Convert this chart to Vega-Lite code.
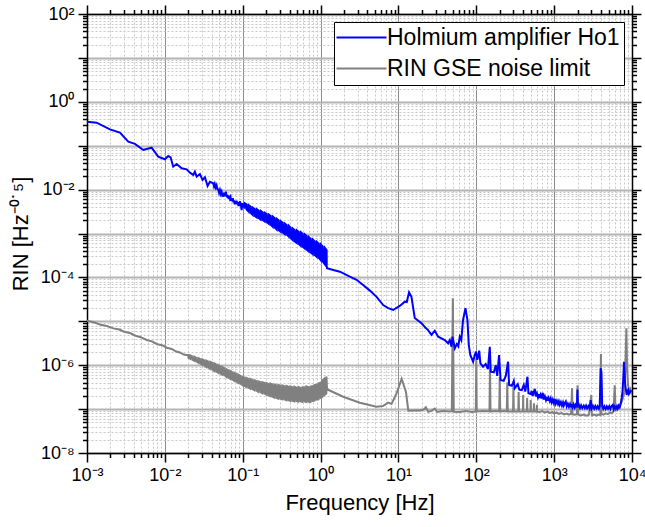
{
  "$schema": "https://vega.github.io/schema/vega-lite/v6.json",
  "width": 545,
  "height": 439,
  "autosize": {"type": "none"},
  "padding": {"left": 87, "top": 14, "right": 13, "bottom": 74},
  "background": "white",
  "datasets": {
    "ho1env": [
      {"f":0.1,"lo":4.4e-3,"hi":4.7e-3},{"f":0.12,"lo":3.3e-3,"hi":4.16e-3},{"f":0.15,"lo":2.47e-3,"hi":3.37e-3},{"f":0.2,"lo":1.91e-3,"hi":2.66e-3},{"f":0.25,"lo":1.45e-3,"hi":2.19e-3},{"f":0.3,"lo":1.18e-3,"hi":1.82e-3},{"f":0.4,"lo":8.6e-4,"hi":1.33e-3},{"f":0.5,"lo":6.3e-4,"hi":1.11e-3},{"f":0.6,"lo":4.95e-4,"hi":9.2e-4},{"f":0.7,"lo":4.1e-4,"hi":7.9e-4},{"f":0.8,"lo":3.5e-4,"hi":6.85e-4},{"f":0.9,"lo":3.05e-4,"hi":6.0e-4},{"f":1.0,"lo":2.62e-4,"hi":5.3e-4},{"f":1.1,"lo":2.26e-4,"hi":4.56e-4},{"f":1.19,"lo":1.95e-4,"hi":4.0e-4}
    ],
    "gseenv": [
      {"f":0.02,"lo":1.54e-6,"hi":1.63e-6},{"f":0.025,"lo":1.27e-6,"hi":1.42e-6},{"f":0.03,"lo":1.07e-6,"hi":1.3e-6},{"f":0.04,"lo":8.3e-7,"hi":1.08e-6},{"f":0.05,"lo":6.75e-7,"hi":9.1e-7},{"f":0.06,"lo":5.7e-7,"hi":7.9e-7},{"f":0.07,"lo":5.05e-7,"hi":7.0e-7},{"f":0.08,"lo":4.47e-7,"hi":6.25e-7},{"f":0.1,"lo":3.6e-7,"hi":5.1e-7},{"f":0.12,"lo":3.22e-7,"hi":4.68e-7},{"f":0.15,"lo":2.78e-7,"hi":4.16e-7},{"f":0.2,"lo":2.22e-7,"hi":3.74e-7},{"f":0.25,"lo":1.92e-7,"hi":3.48e-7},{"f":0.3,"lo":1.8e-7,"hi":3.28e-7},{"f":0.4,"lo":1.61e-7,"hi":3.14e-7},{"f":0.5,"lo":1.56e-7,"hi":2.98e-7},{"f":0.6,"lo":1.54e-7,"hi":3.0e-7},{"f":0.7,"lo":1.53e-7,"hi":3.05e-7},{"f":0.8,"lo":1.59e-7,"hi":3.25e-7},{"f":0.9,"lo":1.7e-7,"hi":3.5e-7},{"f":1.0,"lo":1.87e-7,"hi":3.9e-7},{"f":1.1,"lo":2.13e-7,"hi":4.6e-7},{"f":1.19,"lo":2.35e-7,"hi":5.3e-7}
    ],
    "ho1": [
      {"f":0.001,"v":0.352},{"f":0.00133,"v":0.334},{"f":0.00197,"v":0.236},{"f":0.00265,"v":0.198},{"f":0.00339,"v":0.123},{"f":0.00413,"v":0.110},{"f":0.00528,"v":0.0798},{"f":0.00676,"v":0.0902},{"f":0.00822,"v":0.0562},{"f":0.0100,"v":0.049},{"f":0.01107,"v":0.0582},{"f":0.01186,"v":0.0543},{"f":0.0128,"v":0.0333},{"f":0.01416,"v":0.0383},{"f":0.01644,"v":0.0305},{"f":0.01905,"v":0.029},{"f":0.0210,"v":0.0243},{"f":0.0232,"v":0.0215},{"f":0.0243,"v":0.0256},{"f":0.0256,"v":0.0197},{"f":0.0282,"v":0.0226},{"f":0.0305,"v":0.0166},{"f":0.0327,"v":0.0191},{"f":0.0354,"v":0.0121},{"f":0.0379,"v":0.0151},
      {"f":0.0418,"v":0.0139},{"f":0.0428,"v":0.0118},{"f":0.0438,"v":0.0135},{"f":0.0450,"v":0.0112},{"f":0.0462,"v":0.0126},{"f":0.0473,"v":0.0102},{"f":0.0485,"v":0.0101},{"f":0.0497,"v":0.0084},{"f":0.0510,"v":0.0098},{"f":0.0523,"v":0.0080},{"f":0.0536,"v":0.0090},{"f":0.0548,"v":0.0074},{"f":0.0560,"v":0.0078},{"f":0.0572,"v":0.0069},{"f":0.0584,"v":0.0085},{"f":0.0596,"v":0.0072},{"f":0.0608,"v":0.0090},{"f":0.0620,"v":0.0068},{"f":0.0630,"v":0.0076},{"f":0.0640,"v":0.0064},{"f":0.0652,"v":0.0074},{"f":0.0663,"v":0.0062},{"f":0.0674,"v":0.0073},{"f":0.0685,"v":0.0063},{"f":0.0697,"v":0.0068},{"f":0.0708,"v":0.0056},{"f":0.0720,"v":0.0063},{"f":0.0732,"v":0.0054},{"f":0.0748,"v":0.0064},{"f":0.0760,"v":0.0051},{"f":0.0775,"v":0.0057},{"f":0.079,"v":0.0046},{"f":0.0805,"v":0.0055},{"f":0.0820,"v":0.0047},{"f":0.0835,"v":0.0056},{"f":0.0850,"v":0.0046},{"f":0.0865,"v":0.0052},{"f":0.088,"v":0.0042},{"f":0.0895,"v":0.0051},{"f":0.0908,"v":0.0045},{"f":0.092,"v":0.0055},{"f":0.0932,"v":0.0042},{"f":0.0945,"v":0.0050},{"f":0.0957,"v":0.0040},{"f":0.0968,"v":0.0034},{"f":0.0984,"v":0.0046},
      {"f":0.1000,"v":4.95e-3},{"f":0.1004,"v":4.2e-3},{"f":0.1061,"v":3.87e-3},{"f":0.1065,"v":4.85e-3},{"f":0.1126,"v":4.55e-3},{"f":0.1131,"v":3.45e-3},{"f":0.1194,"v":3.15e-3},{"f":0.1199,"v":4.38e-3},{"f":0.1267,"v":4.05e-3},{"f":0.1272,"v":2.92e-3},{"f":0.1344,"v":2.66e-3},{"f":0.1349,"v":3.88e-3},{"f":0.1426,"v":3.62e-3},{"f":0.1432,"v":2.5e-3},{"f":0.1513,"v":2.33e-3},{"f":0.1519,"v":3.55e-3},{"f":0.1605,"v":3.3e-3},{"f":0.1611,"v":2.22e-3},{"f":0.1703,"v":2.08e-3},{"f":0.1710,"v":3.25e-3},{"f":0.1807,"v":3.02e-3},{"f":0.1814,"v":2.03e-3},{"f":0.1917,"v":1.88e-3},{"f":0.1925,"v":2.96e-3},{"f":0.2034,"v":2.76e-3},{"f":0.2042,"v":1.82e-3},{"f":0.2158,"v":1.67e-3},{"f":0.2167,"v":2.68e-3},{"f":0.2290,"v":2.49e-3},{"f":0.2299,"v":1.57e-3},{"f":0.2430,"v":1.42e-3},{"f":0.2440,"v":2.42e-3},{"f":0.2578,"v":2.22e-3},{"f":0.2588,"v":1.36e-3},{"f":0.2735,"v":1.23e-3},{"f":0.2746,"v":2.14e-3},{"f":0.2902,"v":1.97e-3},{"f":0.2914,"v":1.18e-3},{"f":0.3079,"v":1.09e-3},{"f":0.3091,"v":1.9e-3},{"f":0.3267,"v":1.75e-3},{"f":0.3280,"v":1.05e-3},{"f":0.3466,"v":9.7e-4},{"f":0.3480,"v":1.68e-3},{"f":0.3677,"v":1.55e-3},{"f":0.3692,"v":9.4e-4},{"f":0.3901,"v":8.5e-4},{"f":0.3917,"v":1.49e-3},{"f":0.4139,"v":1.34e-3},{"f":0.4156,"v":7.9e-4},{"f":0.4391,"v":7.1e-4},{"f":0.4409,"v":1.29e-3},{"f":0.4659,"v":1.19e-3},{"f":0.4678,"v":6.6e-4},{"f":0.4943,"v":6.1e-4},{"f":0.4963,"v":1.18e-3},{"f":0.5245,"v":1.09e-3},{"f":0.5266,"v":5.75e-4},{"f":0.5565,"v":5.25e-4},{"f":0.5587,"v":1.07e-3},{"f":0.5904,"v":9.8e-4},{"f":0.5928,"v":5.0e-4},{"f":0.6264,"v":4.55e-4},{"f":0.6289,"v":9.5e-4},{"f":0.6646,"v":8.65e-4},{"f":0.6673,"v":4.25e-4},{"f":0.7051,"v":3.88e-4},{"f":0.7079,"v":8.3e-4},{"f":0.7481,"v":7.55e-4},{"f":0.7511,"v":3.67e-4},{"f":0.7937,"v":3.36e-4},{"f":0.7969,"v":7.27e-4},{"f":0.8421,"v":6.6e-4},{"f":0.8455,"v":3.22e-4},{"f":0.8935,"v":2.93e-4},{"f":0.8971,"v":6.42e-4},{"f":0.9480,"v":5.85e-4},{"f":0.9518,"v":2.79e-4},{"f":1.0058,"v":2.47e-4},{"f":1.0098,"v":5.63e-4},{"f":1.0671,"v":5.0e-4},{"f":1.0714,"v":2.29e-4},{"f":1.1322,"v":2.0e-4},{"f":1.1367,"v":4.7e-4},{"f":1.1960,"v":4.2e-4},{"f":1.2008,"v":1.83e-4},
      {"f":1.21,"v":1.61e-4},{"f":1.5,"v":1.45e-4},{"f":1.77,"v":1.35e-4},{"f":2.38,"v":1.04e-4},{"f":2.9,"v":8.8e-5},{"f":3.52,"v":6.7e-5},{"f":4.3,"v":5.0e-5},{"f":5.24,"v":3.6e-5},{"f":6.37,"v":2.34e-5},{"f":7.4,"v":2.0e-5},{"f":8.55,"v":1.81e-5},{"f":10.4,"v":2.24e-5},{"f":12.1,"v":2.8e-5},{"f":12.8,"v":2.75e-5},{"f":13.7,"v":4.57e-5},{"f":14.7,"v":3.63e-5},{"f":16.2,"v":1.19e-5},{"f":19.8,"v":9.0e-6},{"f":22.5,"v":7.0e-6},{"f":24.0,"v":6.3e-6},{"f":26.6,"v":4.9e-6},{"f":29.3,"v":6.1e-6},{"f":32.4,"v":4.47e-6},{"f":39.4,"v":3.75e-6},{"f":43.5,"v":3.16e-6},{"f":45.7,"v":3.75e-6},{"f":48.1,"v":2.63e-6},{"f":49.4,"v":4.47e-6},{"f":53.0,"v":2.43e-6},{"f":56.2,"v":3.04e-6},{"f":58.7,"v":2.7e-6},{"f":61.4,"v":4.47e-6},{"f":64.2,"v":3.75e-6},{"f":67.6,"v":1.07e-5},{"f":72.6,"v":1.98e-5},{"f":77.0,"v":1.07e-5},{"f":80.1,"v":2.88e-6},{"f":83.8,"v":1.71e-6},{"f":91.0,"v":1.2e-6},{"f":95.7,"v":1.71e-6},{"f":99.1,"v":2.03e-6},{"f":103,"v":1.32e-6},{"f":109,"v":2.14e-6},{"f":113,"v":1.1e-6},{"f":122,"v":9.25e-7},{"f":132,"v":1.07e-6},{"f":141,"v":8.2e-7},{"f":149,"v":2.63e-6},{"f":153.5,"v":7.1e-7},{"f":168,"v":6.9e-7},{"f":178,"v":1.0e-6},{"f":186,"v":5.7e-7},{"f":196,"v":1.71e-6},{"f":205,"v":4.6e-7},{"f":225,"v":4.4e-7},{"f":239,"v":5.7e-7},{"f":256,"v":1.2e-6},{"f":264,"v":3.55e-7},{"f":286,"v":3.4e-7},{"f":303,"v":4.4e-7},{"f":312,"v":3.0e-7},{"f":341,"v":3.7e-7},{"f":357,"v":2.77e-7},{"f":384,"v":2.7e-7},{"f":407,"v":3.55e-7},{"f":426,"v":2.5e-7},{"f":454,"v":5.47e-7},{"f":468,"v":2.29e-7},
      {"f":500,"v":2.2e-7},{"f":515,"v":2.6e-7},{"f":530,"v":2.0e-7},{"f":545,"v":2.4e-7},{"f":564,"v":2.9e-7},{"f":580,"v":1.95e-7},{"f":600,"v":2.3e-7},{"f":620,"v":1.85e-7},{"f":640,"v":2.2e-7},{"f":653,"v":1.8e-7},{"f":670,"v":2.1e-7},{"f":690,"v":1.75e-7},{"f":714,"v":2.35e-7},{"f":736,"v":1.65e-7},{"f":760,"v":1.95e-7},{"f":785,"v":1.6e-7},{"f":810,"v":1.9e-7},{"f":828,"v":1.55e-7},{"f":850,"v":1.8e-7},{"f":880,"v":1.5e-7},{"f":905,"v":1.75e-7},{"f":933,"v":1.42e-7},{"f":960,"v":1.65e-7},{"f":990,"v":1.38e-7},{"f":1019,"v":1.7e-7},{"f":1050,"v":1.33e-7},{"f":1085,"v":1.55e-7},{"f":1120,"v":1.3e-7},{"f":1150,"v":1.5e-7},{"f":1180,"v":1.25e-7},{"f":1220,"v":1.45e-7},{"f":1260,"v":1.2e-7},{"f":1300,"v":1.42e-7},{"f":1330,"v":1.2e-7},{"f":1370,"v":1.38e-7},{"f":1410,"v":1.5e-7},{"f":1450,"v":1.15e-7},{"f":1500,"v":1.32e-7},{"f":1550,"v":1.12e-7},{"f":1600,"v":1.3e-7},{"f":1650,"v":1.1e-7},{"f":1680,"v":1.3e-7},{"f":1730,"v":1.1e-7},{"f":1780,"v":1.28e-7},{"f":1840,"v":1.08e-7},{"f":1890,"v":1.25e-7},{"f":1960,"v":1.1e-7},{"f":1990,"v":2.8e-7},{"f":2020,"v":1.1e-7},{"f":2080,"v":1.25e-7},{"f":2150,"v":1.06e-7},{"f":2220,"v":1.22e-7},{"f":2300,"v":1.05e-7},{"f":2400,"v":1.2e-7},{"f":2480,"v":1.05e-7},{"f":2570,"v":1.2e-7},{"f":2650,"v":1.04e-7},{"f":2750,"v":1.18e-7},{"f":2850,"v":1.04e-7},{"f":2950,"v":1.6e-7},{"f":3040,"v":1.04e-7},{"f":3150,"v":1.18e-7},{"f":3270,"v":1.02e-7},{"f":3380,"v":1.18e-7},{"f":3500,"v":1.03e-7},{"f":3620,"v":1.16e-7},{"f":3750,"v":1.02e-7},{"f":3850,"v":1.15e-7},{"f":3960,"v":8.5e-7},{"f":4050,"v":7.0e-7},{"f":4140,"v":1.2e-7},{"f":4280,"v":1.02e-7},{"f":4420,"v":1.16e-7},{"f":4590,"v":1.0e-7},{"f":4750,"v":1.15e-7},{"f":4920,"v":1.02e-7},{"f":5100,"v":1.16e-7},{"f":5280,"v":1.0e-7},{"f":5460,"v":1.18e-7},{"f":5650,"v":1.25e-7},{"f":5820,"v":1.0e-7},{"f":6000,"v":1.15e-7},{"f":6200,"v":1.02e-7},{"f":6400,"v":1.16e-7},{"f":6550,"v":1.03e-7},{"f":6750,"v":1.2e-7},{"f":6950,"v":1.1e-7},{"f":7150,"v":1.3e-7},{"f":7380,"v":1.8e-7},{"f":7550,"v":2.5e-7},{"f":7710,"v":4.6e-7},{"f":7890,"v":1.2e-6},{"f":8050,"v":6.0e-7},{"f":8180,"v":3.55e-7},{"f":8400,"v":2.6e-7},{"f":8550,"v":2.1e-7},{"f":8750,"v":2.6e-7},{"f":8950,"v":2.77e-7},{"f":9150,"v":2.2e-7},{"f":9360,"v":2.35e-7},{"f":9600,"v":2.6e-7},{"f":9940,"v":2.5e-7}
    ],
    "gse": [
      {"f":0.001,"v":1.03e-5},{"f":0.00125,"v":9.4e-6},{"f":0.0015,"v":8.3e-6},{"f":0.0018,"v":7.8e-6},{"f":0.00218,"v":6.9e-6},{"f":0.0026,"v":6.5e-6},{"f":0.003,"v":5.8e-6},{"f":0.00356,"v":5.4e-6},{"f":0.0042,"v":4.7e-6},{"f":0.0049,"v":4.35e-6},{"f":0.00583,"v":3.75e-6},{"f":0.0068,"v":3.5e-6},{"f":0.008,"v":3.0e-6},{"f":0.0092,"v":2.85e-6},{"f":0.0106,"v":2.5e-6},{"f":0.0122,"v":2.35e-6},{"f":0.014,"v":2.05e-6},{"f":0.0156,"v":1.95e-6},{"f":0.0175,"v":1.75e-6},{"f":0.0188,"v":1.7e-6},
      {"f":0.0200,"v":1.70e-6},{"f":0.02008,"v":1.48e-6},{"f":0.0212,"v":1.40e-6},{"f":0.02129,"v":1.67e-6},{"f":0.0225,"v":1.59e-6},{"f":0.02259,"v":1.34e-6},{"f":0.0239,"v":1.26e-6},{"f":0.02400,"v":1.56e-6},{"f":0.0253,"v":1.48e-6},{"f":0.02540,"v":1.22e-6},{"f":0.0269,"v":1.14e-6},{"f":0.02701,"v":1.45e-6},{"f":0.0285,"v":1.38e-6},{"f":0.02861,"v":1.10e-6},{"f":0.0302,"v":1.02e-6},{"f":0.03032,"v":1.36e-6},{"f":0.0321,"v":1.29e-6},{"f":0.03223,"v":9.8e-7},{"f":0.0340,"v":9.1e-7},{"f":0.03414,"v":1.27e-6},{"f":0.0361,"v":1.21e-6},{"f":0.03624,"v":8.9e-7},{"f":0.0383,"v":8.3e-7},{"f":0.03845,"v":1.19e-6},{"f":0.0406,"v":1.13e-6},{"f":0.04076,"v":8.0e-7},{"f":0.0431,"v":7.4e-7},{"f":0.04327,"v":1.10e-6},{"f":0.0457,"v":1.03e-6},{"f":0.04588,"v":7.2e-7},{"f":0.0485,"v":6.7e-7},{"f":0.04869,"v":1.0e-6},{"f":0.0515,"v":9.3e-7},{"f":0.05171,"v":6.5e-7},{"f":0.0546,"v":6.1e-7},{"f":0.05482,"v":9.1e-7},{"f":0.0579,"v":8.5e-7},{"f":0.05813,"v":5.95e-7},{"f":0.0615,"v":5.45e-7},{"f":0.06175,"v":8.15e-7},{"f":0.0652,"v":7.6e-7},{"f":0.06546,"v":5.25e-7},{"f":0.0692,"v":4.88e-7},{"f":0.06948,"v":7.4e-7},{"f":0.0734,"v":6.9e-7},{"f":0.07369,"v":4.7e-7},{"f":0.0779,"v":4.38e-7},{"f":0.07821,"v":6.7e-7},{"f":0.0826,"v":6.3e-7},{"f":0.08293,"v":4.27e-7},{"f":0.0877,"v":3.96e-7},{"f":0.08805,"v":6.08e-7},{"f":0.0930,"v":5.7e-7},{"f":0.09337,"v":3.82e-7},{"f":0.0987,"v":3.55e-7},{"f":0.09909,"v":5.5e-7},
      {"f":0.1047,"v":5.2e-7},{"f":0.1051,"v":3.42e-7},{"f":0.1111,"v":3.19e-7},{"f":0.1115,"v":5.15e-7},{"f":0.1179,"v":4.88e-7},{"f":0.1184,"v":3.13e-7},{"f":0.1251,"v":2.93e-7},{"f":0.1256,"v":4.85e-7},{"f":0.1327,"v":4.6e-7},{"f":0.1332,"v":2.87e-7},{"f":0.1408,"v":2.7e-7},{"f":0.1414,"v":4.55e-7},{"f":0.1494,"v":4.33e-7},{"f":0.1500,"v":2.67e-7},{"f":0.1585,"v":2.49e-7},{"f":0.1591,"v":4.28e-7},{"f":0.1682,"v":4.09e-7},{"f":0.1689,"v":2.45e-7},{"f":0.1784,"v":2.31e-7},{"f":0.1791,"v":4.08e-7},{"f":0.1893,"v":3.93e-7},{"f":0.1901,"v":2.26e-7},{"f":0.2008,"v":2.13e-7},{"f":0.2016,"v":3.93e-7},{"f":0.2131,"v":3.76e-7},{"f":0.2140,"v":2.08e-7},{"f":0.2261,"v":1.97e-7},{"f":0.2270,"v":3.8e-7},{"f":0.2399,"v":3.64e-7},{"f":0.2409,"v":1.92e-7},{"f":0.2545,"v":1.82e-7},{"f":0.2555,"v":3.65e-7},{"f":0.2700,"v":3.51e-7},{"f":0.2711,"v":1.8e-7},{"f":0.2865,"v":1.73e-7},{"f":0.2876,"v":3.54e-7},{"f":0.3040,"v":3.41e-7},{"f":0.3052,"v":1.73e-7},{"f":0.3225,"v":1.67e-7},{"f":0.3238,"v":3.44e-7},{"f":0.3422,"v":3.31e-7},{"f":0.3436,"v":1.67e-7},{"f":0.3630,"v":1.6e-7},{"f":0.3645,"v":3.36e-7},{"f":0.3852,"v":3.23e-7},{"f":0.3867,"v":1.61e-7},{"f":0.4087,"v":1.54e-7},{"f":0.4103,"v":3.29e-7},{"f":0.4336,"v":3.16e-7},{"f":0.4353,"v":1.55e-7},{"f":0.4600,"v":1.5e-7},{"f":0.4618,"v":3.22e-7},{"f":0.4881,"v":3.08e-7},{"f":0.4901,"v":1.53e-7},{"f":0.5179,"v":1.48e-7},{"f":0.5200,"v":3.19e-7},{"f":0.5495,"v":3.04e-7},{"f":0.5517,"v":1.51e-7},{"f":0.5830,"v":1.46e-7},{"f":0.5853,"v":3.16e-7},{"f":0.6185,"v":3.16e-7},{"f":0.6210,"v":1.5e-7},{"f":0.6562,"v":1.45e-7},{"f":0.6588,"v":3.26e-7},{"f":0.6963,"v":3.14e-7},{"f":0.6991,"v":1.48e-7},{"f":0.7387,"v":1.45e-7},{"f":0.7417,"v":3.26e-7},{"f":0.7838,"v":3.32e-7},{"f":0.7869,"v":1.52e-7},{"f":0.8316,"v":1.55e-7},{"f":0.8349,"v":3.54e-7},{"f":0.8823,"v":3.6e-7},{"f":0.8858,"v":1.64e-7},{"f":0.9361,"v":1.66e-7},{"f":0.9398,"v":3.86e-7},{"f":0.9932,"v":4.0e-7},{"f":0.9972,"v":1.8e-7},{"f":1.0538,"v":1.9e-7},{"f":1.0580,"v":4.5e-7},{"f":1.1181,"v":4.95e-7},{"f":1.1226,"v":2.1e-7},{"f":1.1863,"v":2.26e-7},{"f":1.1910,"v":5.55e-7},
      {"f":1.21,"v":2.83e-7},{"f":1.95,"v":1.91e-7},{"f":3.19,"v":1.40e-7},{"f":5.24,"v":1.13e-7},{"f":6.31,"v":1.17e-7},{"f":7.38,"v":1.40e-7},{"f":8.15,"v":1.31e-7},{"f":9.46,"v":2.29e-7},{"f":11.0,"v":4.9e-7},{"f":12.5,"v":2.45e-7},{"f":13.4,"v":9.2e-8},{"f":16.2,"v":9.3e-8},{"f":18.8,"v":9.3e-8},{"f":21.2,"v":9.8e-8},{"f":22.5,"v":1.1e-7},{"f":24.1,"v":8.7e-8},{"f":26.1,"v":9.0e-8},{"f":29.3,"v":1.03e-7},{"f":31.4,"v":8.6e-8},{"f":37.2,"v":9.0e-8},{"f":45.7,"v":8.8e-8},{"f":48.5,"v":9.0e-8},{"f":50.0,"v":3.34e-5},{"f":51.4,"v":8.7e-8},{"f":61.4,"v":8.6e-8},{"f":73.3,"v":9.0e-8},{"f":87.5,"v":8.6e-8},{"f":98.6,"v":8.8e-8},{"f":100,"v":1.46e-6},{"f":101.4,"v":8.8e-8},{"f":121,"v":9.0e-8},{"f":147.6,"v":8.9e-8},{"f":150,"v":1.01e-6},{"f":152.4,"v":8.8e-8},{"f":173,"v":9.0e-8},{"f":197,"v":8.9e-8},{"f":200,"v":5.4e-7},{"f":203,"v":8.8e-8},{"f":225,"v":9.0e-8},{"f":246.5,"v":8.9e-8},{"f":250,"v":4.1e-7},{"f":254,"v":8.8e-8},{"f":296.6,"v":8.9e-8},{"f":300,"v":3.2e-7},{"f":303.5,"v":8.8e-8},{"f":346,"v":8.9e-8},{"f":350,"v":2.45e-7},{"f":354,"v":8.8e-8},{"f":397,"v":8.9e-8},{"f":400,"v":2.1e-7},{"f":403,"v":8.8e-8},{"f":446,"v":8.9e-8},{"f":450,"v":1.8e-7},{"f":454,"v":8.8e-8},{"f":496,"v":8.9e-8},{"f":500,"v":1.6e-7},{"f":504,"v":8.8e-8},{"f":546,"v":8.9e-8},{"f":550,"v":1.35e-7},{"f":554,"v":8.8e-8},{"f":596,"v":8.8e-8},{"f":600,"v":1.25e-7},{"f":604,"v":8.7e-8},
      {"f":650,"v":8.6e-8},{"f":700,"v":9.0e-8},{"f":760,"v":8.4e-8},{"f":820,"v":8.8e-8},{"f":880,"v":8.2e-8},{"f":950,"v":8.5e-8},{"f":1000,"v":8.0e-8},{"f":1080,"v":8.3e-8},{"f":1150,"v":7.8e-8},{"f":1250,"v":8.1e-8},{"f":1350,"v":7.6e-8},{"f":1450,"v":7.9e-8},{"f":1550,"v":7.5e-8},{"f":1650,"v":7.8e-8},{"f":1700,"v":3.0e-7},{"f":1720,"v":7.6e-8},{"f":1850,"v":7.4e-8},{"f":1960,"v":7.6e-8},{"f":2000,"v":3.5e-7},{"f":2040,"v":7.5e-8},{"f":2200,"v":7.2e-8},{"f":2400,"v":7.5e-8},{"f":2600,"v":7.1e-8},{"f":2800,"v":7.4e-8},{"f":3000,"v":2.1e-7},{"f":3050,"v":7.2e-8},{"f":3300,"v":7.5e-8},{"f":3500,"v":7.1e-8},{"f":3700,"v":7.5e-8},{"f":3920,"v":7.3e-8},{"f":3990,"v":1.8e-6},{"f":4050,"v":7.8e-8},{"f":4300,"v":7.5e-8},{"f":4600,"v":8.0e-8},{"f":4900,"v":7.7e-8},{"f":5200,"v":8.3e-8},{"f":5500,"v":8.0e-8},{"f":5800,"v":9.0e-8},{"f":6000,"v":3.5e-7},{"f":6150,"v":9.5e-8},{"f":6500,"v":1.0e-7},{"f":6800,"v":1.1e-7},{"f":7100,"v":1.3e-7},{"f":7400,"v":1.5e-7},{"f":7700,"v":1.9e-7},{"f":8000,"v":2.5e-7},{"f":8250,"v":1.2e-6},{"f":8470,"v":6.9e-6},{"f":8650,"v":8.0e-7},{"f":8900,"v":3.5e-7},{"f":9200,"v":2.6e-7},{"f":9500,"v":2.9e-7},{"f":9800,"v":2.4e-7},{"f":9950,"v":2.6e-7}
    ]
  },
  "layer": [
    {
      "data": {"name": "gseenv"},
      "mark": {"type": "area", "color": "#808080", "opacity": 1, "clip": true},
      "encoding": {
        "x": {"field": "f", "type": "quantitative", "scale": {"type": "log", "domain": [0.001, 10000], "nice": false}, "axis": null},
        "y": {"field": "lo", "type": "quantitative", "scale": {"type": "log", "domain": [1e-8, 100], "nice": false}, "axis": null},
        "y2": {"field": "hi"}
      }
    },
    {
      "data": {"name": "gse"},
      "mark": {"type": "line", "strokeWidth": 2, "clip": true},
      "encoding": {
        "x": {"field": "f", "type": "quantitative",
          "scale": {"type": "log", "domain": [0.001, 10000], "nice": false},
          "axis": {"orient": "bottom", "values": [0.001, 0.01, 0.1, 1, 10, 100, 1000, 10000],
            "labelExpr": "['10⁻³','10⁻²','10⁻¹','10⁰','10¹','10²','10³','10⁴'][round(log(datum.value)/LN10)+3]",
            "title": "Frequency [Hz]", "grid": true, "gridColor": "#8c8c8c", "gridWidth": 1,
            "tickSize": 9, "labelPadding": 4, "titlePadding": 8, "labelFlush": false, "labelOverlap": false, "domain": true}},
        "y": {"field": "v", "type": "quantitative",
          "scale": {"type": "log", "domain": [1e-8, 100], "nice": false},
          "axis": {"orient": "left", "values": [1e-8, 1e-7, 1e-6, 1e-5, 1e-4, 0.001, 0.01, 0.1, 1, 10, 100],
            "labelExpr": "['10⁻⁸','','10⁻⁶','','10⁻⁴','','10⁻²','','10⁰','','10²'][round(log(datum.value)/LN10)+8]",
            "title": "RIN [Hz⁻⁰˙⁵]", "grid": true, "gridColor": "#b4b4b4", "gridWidth": 2,
            "tickSize": 9, "labelPadding": 4, "titlePadding": 8, "labelFlush": false, "labelOverlap": false, "domain": true}},
        "color": {"datum": "RIN GSE noise limit", "type": "nominal",
          "scale": {"domain": ["Holmium amplifier Ho1", "RIN GSE noise limit"], "range": ["#0000ff", "#808080"]},
          "legend": {"title": null}}
      }
    },
    {
      "data": {"name": "ho1env"},
      "mark": {"type": "area", "color": "#0000ff", "opacity": 1, "clip": true},
      "encoding": {
        "x": {"field": "f", "type": "quantitative", "scale": {"type": "log", "domain": [0.001, 10000], "nice": false}, "axis": null},
        "y": {"field": "lo", "type": "quantitative", "scale": {"type": "log", "domain": [1e-8, 100], "nice": false}, "axis": null},
        "y2": {"field": "hi"}
      }
    },
    {
      "data": {"name": "ho1"},
      "mark": {"type": "line", "strokeWidth": 2, "clip": true},
      "encoding": {
        "x": {"field": "f", "type": "quantitative",
          "scale": {"type": "log", "domain": [0.001, 10000], "nice": false},
          "axis": {"orient": "bottom", "values": [0.002,0.003,0.004,0.005,0.006,0.007,0.008,0.009,0.02,0.03,0.04,0.05,0.06,0.07,0.08,0.09,0.2,0.3,0.4,0.5,0.6,0.7,0.8,0.9,2,3,4,5,6,7,8,9,20,30,40,50,60,70,80,90,200,300,400,500,600,700,800,900,2000,3000,4000,5000,6000,7000,8000,9000],
            "labels": false, "title": null, "grid": true, "gridColor": "#c8c8c8", "gridDash": [2, 2], "gridWidth": 1,
            "tickSize": 4.5, "domain": false}},
        "y": {"field": "v", "type": "quantitative",
          "scale": {"type": "log", "domain": [1e-8, 100], "nice": false},
          "axis": {"orient": "left", "values": [2e-8,3e-8,4e-8,5e-8,6e-8,7e-8,8e-8,9e-8,2e-7,3e-7,4e-7,5e-7,6e-7,7e-7,8e-7,9e-7,2e-6,3e-6,4e-6,5e-6,6e-6,7e-6,8e-6,9e-6,2e-5,3e-5,4e-5,5e-5,6e-5,7e-5,8e-5,9e-5,2e-4,3e-4,4e-4,5e-4,6e-4,7e-4,8e-4,9e-4,0.002,0.003,0.004,0.005,0.006,0.007,0.008,0.009,0.02,0.03,0.04,0.05,0.06,0.07,0.08,0.09,0.2,0.3,0.4,0.5,0.6,0.7,0.8,0.9,2,3,4,5,6,7,8,9,20,30,40,50,60,70,80,90],
            "labels": false, "title": null, "grid": true, "gridColor": "#c8c8c8", "gridDash": [2, 2], "gridWidth": 1,
            "tickSize": 4.5, "domain": false}},
        "color": {"datum": "Holmium amplifier Ho1", "type": "nominal",
          "scale": {"domain": ["Holmium amplifier Ho1", "RIN GSE noise limit"], "range": ["#0000ff", "#808080"]},
          "legend": {"title": null}}
      }
    },
    {
      "data": {"name": "ho1"},
      "transform": [{"filter": "datum.f >= 9000"}],
      "mark": {"type": "point", "opacity": 0},
      "encoding": {
        "x": {"field": "f", "type": "quantitative",
          "scale": {"type": "log", "domain": [0.001, 10000], "nice": false},
          "axis": {"orient": "top", "values": [0.001, 0.01, 0.1, 1, 10, 100, 1000, 10000], "labels": false, "title": null, "grid": false, "tickSize": 9, "domain": true}},
        "y": {"field": "v", "type": "quantitative",
          "scale": {"type": "log", "domain": [1e-8, 100], "nice": false},
          "axis": {"orient": "right", "values": [1e-8, 1e-7, 1e-6, 1e-5, 1e-4, 0.001, 0.01, 0.1, 1, 10, 100], "labels": false, "title": null, "grid": false, "tickSize": 9, "domain": true}}
      }
    },
    {
      "data": {"name": "ho1"},
      "transform": [{"filter": "datum.f >= 9000"}],
      "mark": {"type": "point", "opacity": 0},
      "encoding": {
        "x": {"field": "f", "type": "quantitative",
          "scale": {"type": "log", "domain": [0.001, 10000], "nice": false},
          "axis": {"orient": "top", "values": [0.002,0.003,0.004,0.005,0.006,0.007,0.008,0.009,0.02,0.03,0.04,0.05,0.06,0.07,0.08,0.09,0.2,0.3,0.4,0.5,0.6,0.7,0.8,0.9,2,3,4,5,6,7,8,9,20,30,40,50,60,70,80,90,200,300,400,500,600,700,800,900,2000,3000,4000,5000,6000,7000,8000,9000], "labels": false, "title": null, "grid": false, "tickSize": 4.5, "domain": false}},
        "y": {"field": "v", "type": "quantitative",
          "scale": {"type": "log", "domain": [1e-8, 100], "nice": false},
          "axis": {"orient": "right", "values": [2e-8,3e-8,4e-8,5e-8,6e-8,7e-8,8e-8,9e-8,2e-7,3e-7,4e-7,5e-7,6e-7,7e-7,8e-7,9e-7,2e-6,3e-6,4e-6,5e-6,6e-6,7e-6,8e-6,9e-6,2e-5,3e-5,4e-5,5e-5,6e-5,7e-5,8e-5,9e-5,2e-4,3e-4,4e-4,5e-4,6e-4,7e-4,8e-4,9e-4,0.002,0.003,0.004,0.005,0.006,0.007,0.008,0.009,0.02,0.03,0.04,0.05,0.06,0.07,0.08,0.09,0.2,0.3,0.4,0.5,0.6,0.7,0.8,0.9,2,3,4,5,6,7,8,9,20,30,40,50,60,70,80,90], "labels": false, "title": null, "grid": false, "tickSize": 4.5, "domain": false}}
      }
    }
  ],
  "resolve": {"axis": {"x": "independent", "y": "independent"}},
  "config": {
    "view": {"stroke": null},
    "axis": {
      "tickColor": "black", "domainColor": "black", "labelColor": "black", "titleColor": "black",
      "labelFont": "Liberation Sans", "titleFont": "Liberation Sans",
      "labelFontSize": 18, "titleFontSize": 22, "titleFontWeight": "normal",
      "tickWidth": 1.5, "domainWidth": 1.5
    },
    "legend": {
      "orient": "top-right", "offset": 8,
      "symbolType": "M-5,0H5", "symbolSize": 100, "symbolStrokeWidth": 2,
      "symbolOffset": 12, "labelOffset": 14,
      "labelFont": "Liberation Sans", "labelFontSize": 23, "labelColor": "black", "labelLimit": 400,
      "padding": 4, "rowPadding": 7,
      "strokeColor": "black", "fillColor": "white", "cornerRadius": 0
    }
  }
}
